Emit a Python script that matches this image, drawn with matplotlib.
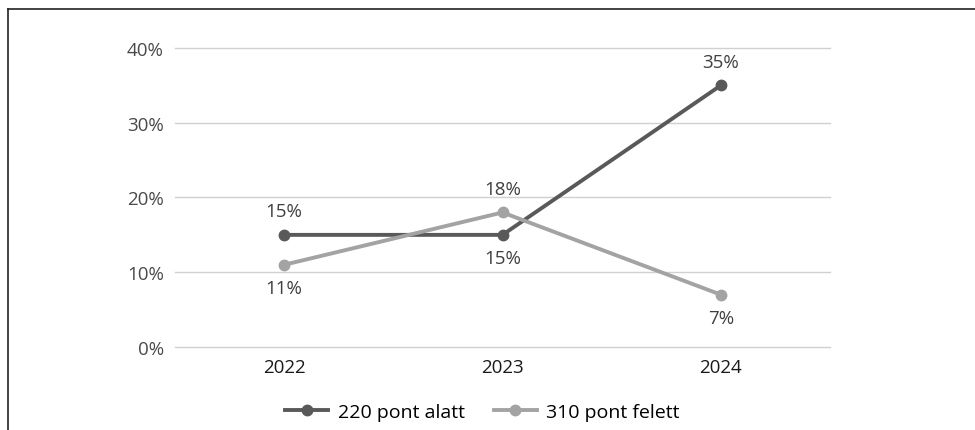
import matplotlib.pyplot as plt
from matplotlib.lines import Line2D

years = ['2022', '2023', '2024']
below_220 = [15, 15, 35]
above_310 = [11, 18, 7]
series_names = ['220 pont alatt', '310 pont felett']
yticks = [0, 10, 20, 30, 40]

plt.rcParams['font.family'] = ['Open Sans', 'DejaVu Sans']

fig = plt.figure(figsize=(9.75, 4.31), dpi=100)
ax = fig.add_axes([0.1795, 0.1926, 0.6718, 0.6937])

dark = '#595959'
light = '#a3a3a3'
x = range(len(years))

ax.plot(x, below_220, color=dark, lw=2.8, marker='o', ms=7.5, label=series_names[0], zorder=3)
ax.plot(x, above_310, color=light, lw=2.8, marker='o', ms=7.5, label=series_names[1], zorder=3)

# value labels: dark line above/below/above, light line below/above/below
dark_pos = [1, -1, 1]
light_pos = [-1, 1, -1]
for i, (v, p) in enumerate(zip(below_220, dark_pos)):
    ax.annotate(f'{v}%', (i, v), xytext=(0, 17 * p), textcoords='offset points',
                ha='center', va='center', fontsize=13.5, color='#404040')
for i, (v, p) in enumerate(zip(above_310, light_pos)):
    ax.annotate(f'{v}%', (i, v), xytext=(0, 17 * p), textcoords='offset points',
                ha='center', va='center', fontsize=13.5, color='#404040')

ax.set_xlim(-0.5, 2.5)
ax.set_ylim(0, 40)
ax.set_xticks(list(x))
ax.set_xticklabels(years, fontsize=13.5, color='#1a1a1a')
ax.set_yticks(yticks)
ax.set_yticklabels([f'{t}%' for t in yticks], fontsize=13.5, color='#4a4a4a')
ax.tick_params(length=0)
ax.tick_params(axis='y', pad=8)
ax.tick_params(axis='x', pad=8)
ax.grid(axis='y', color='#d0d0d0', lw=1)
for gl in ax.get_ygridlines():
    gl.set_clip_on(False)
ax.set_axisbelow(True)
for s in ax.spines.values():
    s.set_visible(False)

fig.legend(loc='center', bbox_to_anchor=(0.495, 0.042), ncol=2, frameon=False,
           fontsize=14, handlelength=2.2, columnspacing=1.5, handletextpad=0.5)

# outer frame: top and left only
fig.add_artist(Line2D([0.0082, 1.0], [0.977, 0.977], color='#222222', lw=1.2))
fig.add_artist(Line2D([0.0082, 0.0082], [0.0, 0.977], color='#222222', lw=1.2))

fig.savefig('out.png', dpi=100)
